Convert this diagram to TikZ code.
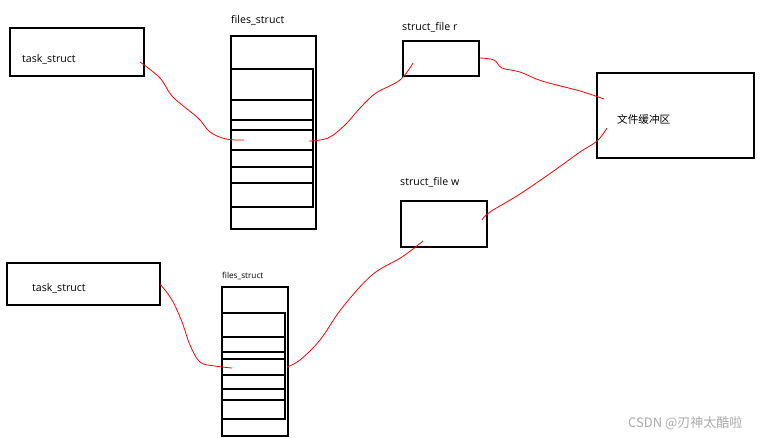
\documentclass[tikz,border=0pt]{standalone}
\usepackage{fontspec}
\setmainfont{Open Sans}
\newfontfamily\cjk{Noto Sans CJK SC}
\begin{document}
\begin{tikzpicture}[x=1pt,y=-1pt,
  box/.style={draw=black,line width=2pt},
  lbl/.style={inner sep=0pt,anchor=west,font=\fontsize{10.6}{12}\selectfont},
  link/.style={draw=red,line width=0.8pt}]
\useasboundingbox[fill=white] (0,0) rectangle (762,437);
% top task_struct
\draw[box] (10,28) rectangle (144,76);
\node[lbl] (t1) at (22,59) {task\_struct};
% top files_struct
\node[lbl] (f1l) at (231,20) {files\_struct};
\draw[box] (231,36) rectangle (316,229);
\draw[box] (231,69) rectangle (313,207);
\foreach \y in {100,120,130,150,167,183} \draw[box] (231,\y) -- (313,\y);
% struct_file r
\node[lbl] (rl) at (402,27) {struct\_file r};
\draw[box] (403,41) rectangle (479,76);
% buffer
\draw[box] (597,73) rectangle (754,158);
\node[lbl,font=\cjk\fontsize{10.6}{12}\selectfont] (buf) at (617,119) {文件缓冲区};
% struct_file w
\node[lbl] (wl) at (400,182) {struct\_file w};
\draw[box] (401,201) rectangle (487,247);
% bottom task_struct
\draw[box] (7,263) rectangle (160,305);
\node[lbl] (t2) at (32,288) {task\_struct};
% bottom files_struct
\node[lbl,font=\fontsize{8.2}{10}\selectfont] (f2l) at (222,276) {files\_struct};
\draw[box] (222,287) rectangle (288,436);
\draw[box] (222,313) rectangle (285,419);
\foreach \y in {337,352,359,375,389,400} \draw[box] (222,\y) -- (285,\y);
% endpoints
\coordinate (a1) at (140,62); \coordinate (a2) at (244,140);
\coordinate (b1) at (309,141); \coordinate (b2) at (413,63);
\coordinate (c1) at (480,58); \coordinate (c2) at (604,99);
\coordinate (d1) at (607,128); \coordinate (d2) at (482,220);
\coordinate (e1) at (423,241); \coordinate (e2) at (287,367);
\coordinate (g1) at (160,284); \coordinate (g2) at (232,368);
\draw[link] plot[smooth,tension=0.6] coordinates {(a1) (160,78) (173,97) (198,118) (210,132) (226,139) (a2)};
\draw[link] plot[smooth,tension=0.6] coordinates {(b1) (328,138) (345,125) (360,108) (376,93) (400,80) (b2)};
\draw[link] plot[smooth,tension=0.6] coordinates {(c1) (494,60) (502,68) (520,72) (542,81) (580,91) (c2)};
\draw[link] plot[smooth,tension=0.6] coordinates {(d1) (597,141) (580,152) (555,170) (520,194) (490,212) (d2)};
\draw[link] plot[smooth,tension=0.6] coordinates {(e1) (402,257) (372,275) (342,308) (320,340) (300,360) (e2)};
\draw[link] plot[smooth,tension=0.6] coordinates {(g1) (172,300) (182,322) (190,345) (200,362) (215,366) (g2)};
% watermark
\node[lbl,text=black!33,font=\cjk\fontsize{13}{15}\selectfont] (wm) at (628,423) {CSDN @刃神太酷啦};
\end{tikzpicture}
\end{document}
